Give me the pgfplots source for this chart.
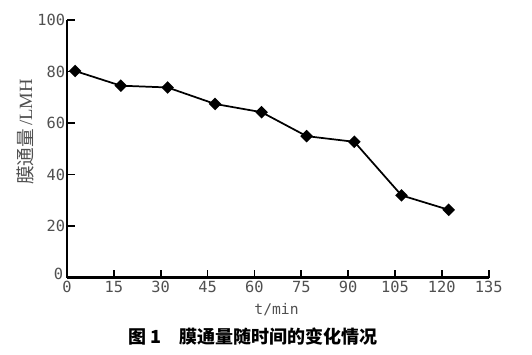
\documentclass[border=0pt]{standalone}
\usepackage{fontspec}
\usepackage{pgfplots}
\pgfplotsset{compat=1.18}
\setmainfont{Liberation Serif}
\newfontfamily\cjk{Noto Sans CJK SC}
\newfontfamily\monof{DejaVu Sans Mono}
\definecolor{ticktext}{HTML}{505050}
\begin{document}
\begin{tikzpicture}
\path[use as bounding box] (-50.25pt,-57.5pt) rectangle (348.5pt,208pt);
\begin{axis}[
  at={(0,0)}, anchor=south west,
  scale only axis,
  width=316pt, height=193pt,
  xmin=0, xmax=135, ymin=0, ymax=100,
  xtick={0,15,...,135}, ytick={20,40,...,100},
  extra y ticks={0},
  extra y tick style={yticklabel style={xshift=-1.5pt, yshift=3pt}},
  axis x line*=bottom, axis y line*=left,
  axis line style={line width=1.6pt, -},
  tick style={line width=1.3pt, black},
  tick align=inside,
  major tick length=6pt,
  /pgf/number format/assume math mode=true,
  tick label style={font=\monof\fontsize{11.5}{13}\selectfont, text=ticktext},
  xticklabel style={yshift=1pt},
  yticklabel style={xshift=2pt},
  clip=false,
]
\addplot[black, line width=1.3pt, mark=square*, mark size=2.7pt,
  mark options={rotate=45, fill=black}] coordinates {
  (2.6,80.2) (17.2,74.5) (32.2,73.8) (47.4,67.4) (62.3,64.2)
  (76.7,54.9) (92.0,52.7) (107.1,31.9) (122.2,26.3)
};
\node[font=\monof\fontsize{11}{13}\selectfont, text=ticktext] at (rel axis cs:0.497,0) [yshift=-23.8pt] {t/min};
\node[xshift=-31.5pt, rotate=90, font=\fontsize{14}{16}\selectfont, text=ticktext] at (rel axis cs:0,0.565) {{\cjk 膜通量}\,/LMH};
\node[font=\cjk\bfseries\fontsize{13.5}{15}\selectfont] at (rel axis cs:0.441,0) [yshift=-44.5pt] {图 1\quad 膜通量随时间的变化情况};
\end{axis}
\end{tikzpicture}
\end{document}
